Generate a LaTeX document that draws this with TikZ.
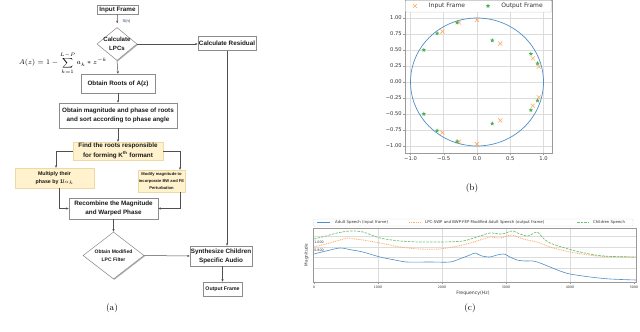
\documentclass[tikz,border=0pt]{standalone}
\usepackage{fontspec}
\usepackage{amsmath}
\newfontfamily\flowfont{Liberation Sans}
\newfontfamily\plotfont{DejaVu Sans}
\usetikzlibrary{shapes.geometric,arrows.meta,shadows}
\definecolor{txt}{HTML}{1A1A1A}
\definecolor{boxline}{HTML}{8C8C8C}
\definecolor{arrcol}{HTML}{505050}
\definecolor{yel}{HTML}{FFF2CC}
\definecolor{yelline}{HTML}{EBD9A6}
\definecolor{bluec}{HTML}{4F8FC8}
\definecolor{orangec}{HTML}{FFA860}
\definecolor{greenc}{HTML}{4CAF50}
\definecolor{gridc}{HTML}{DCDCDC}
\definecolor{framec}{HTML}{9A9A9A}
\definecolor{snc}{HTML}{1F3B73}
\tikzset{
  fbox/.style={draw=boxline, fill=white, line width=0.5pt, inner sep=0pt, align=center,
    font=\flowfont\bfseries\fontsize{6.3}{9}\selectfont, text=txt,
    drop shadow={shadow xshift=0.9pt, shadow yshift=-0.9pt, fill=black!30, opacity=1}},
  ybox/.style={draw=yelline, fill=yel, line width=0.4pt, inner sep=0pt, align=center,
    font=\flowfont\bfseries\fontsize{6.3}{9.5}\selectfont, text=txt},
  dia/.style={diamond, draw=boxline, fill=white, line width=0.5pt, inner sep=0pt,
    drop shadow={shadow xshift=0.9pt, shadow yshift=-0.9pt, fill=black!30, opacity=1}},
  ftext/.style={align=center, inner sep=0pt, text=txt, font=\flowfont\bfseries\fontsize{6.1}{9}\selectfont},
  arr/.style={draw=arrcol, line width=0.5pt, -{Stealth[length=2.6pt,width=2.2pt]}},
  gridl/.style={draw=gridc, line width=0.6pt},
  tickl/.style={font=\plotfont\fontsize{5.2}{6}\selectfont, text=black!80, inner sep=0.5pt},
  gstar/.style={star, star points=5, star point ratio=2.3, fill=greenc, inner sep=0pt, minimum size=4.6pt},
  ctick/.style={font=\plotfont\fontsize{3.3}{4}\selectfont, text=black!75, inner sep=0pt},
  cleg/.style={font=\plotfont\fontsize{3.9}{4.5}\selectfont, text=black!80, inner sep=0pt, anchor=west},
  capt/.style={font=\fontsize{9}{10}\selectfont, inner sep=0pt},
}
\begin{document}
\begin{tikzpicture}[x=1pt, y=-1pt]
\useasboundingbox[fill=white] (0,0) rectangle (640,332);

% ---------------- (a) flowchart ----------------
\node[fbox, minimum width=41pt, minimum height=9.5pt] (inp) at (117.5,9.5) {Input Frame};
\node[dia, minimum width=40pt, minimum height=33pt] (d1) at (117,44) {};
\node[ftext] (d1t) at (d1) {Calculate\\LPCs};
\node[font=\flowfont\fontsize{4}{5}\selectfont, text=snc, inner sep=0pt] (sn) at (126.5,21.5) {S(n)};
\node[fbox, minimum width=58pt, minimum height=14pt] (res) at (227,43.5) {Calculate Residual};
\node[inner sep=0pt] (eq) at (63,63) {\fontsize{6.8}{8}\selectfont $\displaystyle A(z)=1-\sum_{k=1}^{L-P} a_k * z^{-k}$};
\node[fbox, minimum width=74pt, minimum height=19pt] (roots) at (118,83.5) {Obtain Roots of A(z)};
\node[fbox, minimum width=118pt, minimum height=25pt] (mag) at (118,115.5) {Obtain magnitude and phase of roots\\and sort according to phase angle};
\node[ybox, minimum width=90pt, minimum height=18pt] (find) at (118,151) {Find the roots responsible\\for forming K\textsuperscript{th} formant};
\node[ybox, font=\flowfont\bfseries\fontsize{5.3}{8}\selectfont, minimum width=79pt, minimum height=20pt] (mult) at (54.5,178) {Multiply their\\phase by 1/$\alpha_k$};
\node[ybox, font=\flowfont\bfseries\fontsize{4.1}{7.3}\selectfont, minimum width=47pt, minimum height=22pt] (mod) at (161.5,181) {Modify magnitude to\\incorporate BW and FE\\Perturbation};
\node[fbox, minimum width=89pt, minimum height=21pt] (rec) at (113.5,208.5) {Recombine the Magnitude\\and Warped Phase};
\node[dia, minimum width=61pt, minimum height=47pt] (d2) at (113.5,255.5) {};
\node[ftext, font=\flowfont\bfseries\fontsize{5}{8}\selectfont] (d2t) at (d2) {Obtain Modified\\LPC Filter};
\node[fbox, minimum width=62pt, minimum height=20pt] (syn) at (221,256) {Synthesize Children\\Specific Audio};
\node[fbox, font=\flowfont\bfseries\fontsize{5.2}{7}\selectfont, minimum width=39pt, minimum height=14pt] (outp) at (222.5,289) {Output Frame};

\draw[arr, shorten >=4pt] (inp.south) -- (d1.north);
\draw[arr] (d1.east) -- (d1.east -| res.west);
\draw[arr] (d1.south) -- (roots.north);
\draw[arr] (roots.south) -- (mag.north);
\draw[arr] (mag.south) -- (find.north);
\draw[arr] (find.west) -| ([xshift=1.5pt]mult.north);
\draw[arr] (find.east) -| ([xshift=18.5pt]mod.north);
\draw[arr] ([xshift=4.5pt]mult.south) |- (rec.west);
\draw[arr] ([xshift=18.5pt]mod.south) |- (rec.east);
\draw[arr] (rec.south) -- (d2.north);
\draw[arr] (d2.east) -- (syn.west);
\draw[arr] (res.south) -- (res.south |- syn.north);
\draw[arr] (syn.south -| outp.north) -- (outp.north);

\node[capt] (capa) at (112,308) {(a)};

% ---------------- (b) pole plot ----------------
\begin{scope}[shift={(477pt,-82pt)}, x=66.5pt, y=64pt]
  \foreach \t in {-1,-0.5,0,0.5,1} \draw[gridl] (\t,-1.109) -- (\t,1.281);
  \foreach \t in {-1,-0.75,-0.5,-0.25,0,0.25,0.5,0.75,1} \draw[gridl] (-1.083,\t) -- (1.128,\t);
  \draw[bluec, line width=0.7pt] plot[domain=0:360, samples=120, smooth] ({cos(\x)},{sin(\x)});
  \foreach \px/\py in {-0.27/0.93, 0/0.97, -0.52/0.79, 0.35/0.60, 0.84/0.37, 0.93/0.24} {
    \draw[orangec, line width=0.6pt] (\px,\py) +(-2pt,-2pt) -- +(2pt,2pt) +(-2pt,2pt) -- +(2pt,-2pt);
    \draw[orangec, line width=0.6pt] (\px,-\py) +(-2pt,-2pt) -- +(2pt,2pt) +(-2pt,2pt) -- +(2pt,-2pt);
  }
  \foreach \px/\py [count=\i] in {-0.30/0.93, -0.60/0.76, -0.80/0.50, 0.23/0.65, 0.81/0.44, 0.91/0.29} {
    \node[gstar] (gp\i) at (\px,\py) {};
    \node[gstar] (gn\i) at (\px,-\py) {};
  }
  \draw[framec, line width=0.6pt] (-1.083,-1.109) rectangle (1.128,1.281);
  \foreach \t/\l in {1/1.00, 0.75/0.75, 0.5/0.50, 0.25/0.25, 0/0.00, -0.25/−0.25, -0.5/−0.50, -0.75/−0.75, -1/−1.00} {
    \draw[framec, line width=0.5pt] (-1.083,\t) -- +(-2pt,0);
    \node[tickl, anchor=east] at ([xshift=-2.5pt]-1.083,\t) {\l};
  }
  \foreach \t/\l in {-1/−1.0, -0.5/−0.5, 0/0.0, 0.5/0.5, 1/1.0} {
    \draw[framec, line width=0.5pt] (\t,-1.109) -- +(0,-2pt);
    \node[tickl, anchor=north] at ([yshift=-3pt]\t,-1.109) {\l};
  }
\end{scope}
% legend (b)
\draw[draw=black!15, fill=white, rounded corners=1pt, line width=0.5pt] (405.5,0.5) rectangle (551.5,12) node[inner sep=0pt] (legb) {};
\draw[orangec, line width=0.6pt] (415,6) +(-2pt,-2pt) -- +(2pt,2pt) +(-2pt,2pt) -- +(2pt,-2pt);
\node[tickl, font=\plotfont\fontsize{6}{7}\selectfont] (lbi) at (447,6) {Input Frame};
\node[gstar] (lbs) at (488,6) {};
\node[tickl, font=\plotfont\fontsize{6}{7}\selectfont] (lbo) at (522,6) {Output Frame};
\node[capt] (capb) at (472,188) {(b)};

% ---------------- (c) spectra ----------------
\foreach \gx in {378,442,506,570} \draw[gridl] (\gx,228) -- (\gx,282);
\foreach \gy in {236,247,257,268} \draw[gridl] (313,\gy) -- (636,\gy);
\draw[bluec, line width=0.6pt] plot[smooth, tension=0.45] coordinates {(314,254) (326,251) (340,248) (352,250) (363,252) (380,257) (395,260) (407,262) (430,262) (450,262) (462,258) (470,255) (475,253) (482,256) (490,257) (497,255) (504,254) (510,257) (517,260) (525,261) (533,261) (540,263) (550,267) (560,271) (570,274) (590,277) (610,279) (636,280)};
\draw[orangec, line width=0.8pt, dash pattern=on 0.9pt off 0.9pt] plot[smooth, tension=0.45] coordinates {(314,247) (326,244) (340,240) (347,238) (355,239) (363,240) (380,243) (400,247) (420,249) (440,249) (463,245) (480,240) (490,237) (500,238) (512,235) (520,238) (527,240) (537,242) (550,247) (570,252) (597,256) (636,257)};
\draw[greenc!80, line width=0.7pt, dash pattern=on 2.5pt off 1.2pt] plot[smooth, tension=0.45] coordinates {(314,239) (326,236) (337,233) (350,231) (363,232) (380,238) (400,241) (420,242) (440,242) (463,241) (480,236) (490,233) (502,234) (512,231) (520,234) (528,236) (537,232) (543,238) (550,243) (565,248) (580,252) (603,256) (636,257)};
\draw[framec, line width=0.6pt] (313,228) rectangle (636,282);
\foreach \gx/\l in {314/0, 378/1000, 442/2000, 506/3000, 570/4000, 634/5000} {
  \draw[framec, line width=0.4pt] (\gx,282) -- (\gx,284);
  \node[ctick] at (\gx,287) {\l};
}
\node[ctick] (yt1) at (319,242) {1.000};
\node[ctick] (yt2) at (319,250) {0.800};
\node[font=\plotfont\fontsize{4.6}{5}\selectfont, text=black!80, inner sep=0pt] (xlab) at (473,293) {Frequency(Hz)};
\node[font=\plotfont\fontsize{4.2}{5}\selectfont, text=black!80, inner sep=0pt, rotate=90] (ylab) at (306.5,255) {Magnitude};
% legend (c)
\draw[draw=black!15, fill=white, rounded corners=0.8pt, line width=0.4pt] (313.5,219) rectangle (633,226);
\draw[bluec, line width=0.6pt] (317,222.5) -- (330,222.5);
\node[cleg] (lc1) at (335,222.5) {Adult Speech (input frame)};
\draw[orangec, line width=0.8pt, dash pattern=on 0.9pt off 0.9pt] (409,222.5) -- (421,222.5);
\node[cleg] (lc2) at (425,222.5) {LPC-SWP and BWP-FEP Modified Adult Speech (output frame)};
\draw[greenc!80, line width=0.7pt, dash pattern=on 2.5pt off 1.2pt] (577,222.5) -- (589,222.5);
\node[cleg] (lc3) at (593,222.5) {Children Speech};
\node[capt] (capc) at (470,308) {(c)};
\end{tikzpicture}
\end{document}
